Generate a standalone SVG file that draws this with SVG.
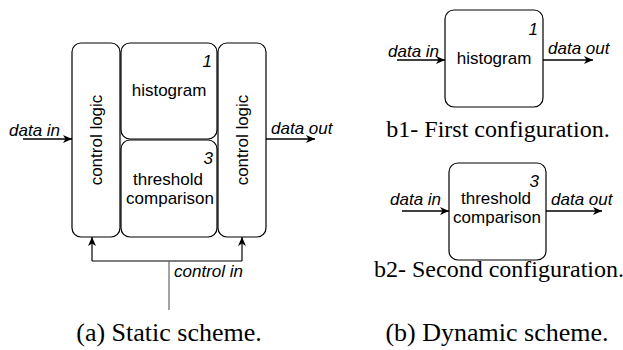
<svg xmlns="http://www.w3.org/2000/svg" width="623" height="350" viewBox="0 0 623 350">
  <defs>
    <marker id="arr" markerUnits="userSpaceOnUse" markerWidth="10" markerHeight="10" viewBox="0 0 10 10" refX="9" refY="5" orient="auto">
      <path d="M0,1 L9,5 L0,9 L2.5,5 z" fill="#000"/>
    </marker>
  </defs>
  <style>
    .box { fill: #fff; stroke: #000; stroke-width: 1.2; }
    .lbl { font-family: "Liberation Sans", Arial, sans-serif; font-size: 17px; fill: #000; }
    .it { font-family: "Liberation Sans", Arial, sans-serif; font-size: 17px; font-style: italic; fill: #000; }
    .cap { font-family: "Liberation Serif", "Times New Roman", serif; fill: #000; text-anchor: middle; }
    .wire { fill: none; stroke: #000; stroke-width: 1.5; }
    .ctl { fill: none; stroke: #000; stroke-width: 1.2; }
    .mid { text-anchor: middle; }
    .end { text-anchor: end; }
  </style>

  <!-- (a) Static scheme -->
  <g id="cl-left">
    <rect class="box" x="72" y="43" width="48" height="194" rx="9"/>
    <text class="lbl mid" transform="translate(102,140) rotate(-90)">control logic</text>
  </g>
  <g id="histogram-a">
    <rect class="box" x="121" y="43" width="96" height="96" rx="9"/>
    <text class="it end" x="212" y="67">1</text>
    <text class="lbl mid" x="169" y="96">histogram</text>
  </g>
  <g id="threshold-a">
    <rect class="box" x="121" y="140" width="96" height="97" rx="9"/>
    <text class="it end" x="213" y="164">3</text>
    <text class="lbl mid" x="168" y="185">threshold</text>
    <text class="lbl mid" x="170" y="204">comparison</text>
  </g>
  <g id="cl-right">
    <rect class="box" x="218" y="43" width="48" height="194" rx="9"/>
    <text class="lbl mid" transform="translate(248,140) rotate(-90)">control logic</text>
  </g>

  <!-- (b) Dynamic scheme nodes -->
  <g id="histogram-b1">
    <rect class="box" x="445" y="10" width="98" height="97" rx="9"/>
    <text class="it end" x="538" y="35">1</text>
    <text class="lbl mid" x="494" y="64">histogram</text>
  </g>
  <g id="threshold-b2">
    <rect class="box" x="449" y="163" width="97" height="97" rx="9"/>
    <text class="it end" x="539" y="187">3</text>
    <text class="lbl mid" x="496" y="204">threshold</text>
    <text class="lbl mid" x="497" y="223">comparison</text>
  </g>

  <g id="connectors">
    <line class="wire" x1="23" y1="139" x2="72" y2="139" marker-end="url(#arr)"/>
    <line class="wire" x1="266" y1="139" x2="315" y2="139" marker-end="url(#arr)"/>
    <polyline class="ctl" points="92,261 242,261"/>
    <line class="ctl" x1="92" y1="261" x2="92" y2="237" marker-end="url(#arr)"/>
    <line class="ctl" x1="242" y1="261" x2="242" y2="237" marker-end="url(#arr)"/>
    <line x1="169" y1="261" x2="169" y2="310" stroke="#666" stroke-width="1.2"/>
    <line class="wire" x1="397" y1="60" x2="445" y2="60" marker-end="url(#arr)"/>
    <line class="wire" x1="543" y1="60" x2="593" y2="60" marker-end="url(#arr)"/>
    <line class="wire" x1="402" y1="211" x2="449" y2="211" marker-end="url(#arr)"/>
    <line class="wire" x1="546" y1="211" x2="602" y2="211" marker-end="url(#arr)"/>
  </g>

  <g id="labels">
    <text class="it" x="9" y="136">data in</text>
    <text class="it" x="271" y="134">data out</text>
    <text class="it" x="174" y="277">control in</text>
    <text class="it" x="388" y="57">data in</text>
    <text class="it" x="548" y="54">data out</text>
    <text class="it" x="390" y="205">data in</text>
    <text class="it" x="551" y="205">data out</text>
  </g>

  <g id="captions">
    <text class="cap" x="498" y="137" font-size="24">b1- First configuration.</text>
    <text class="cap" x="499" y="277" font-size="24">b2- Second configuration.</text>
    <text class="cap" x="169" y="341" font-size="26">(a) Static scheme.</text>
    <text class="cap" x="497" y="341" font-size="26">(b) Dynamic scheme.</text>
  </g>
</svg>
